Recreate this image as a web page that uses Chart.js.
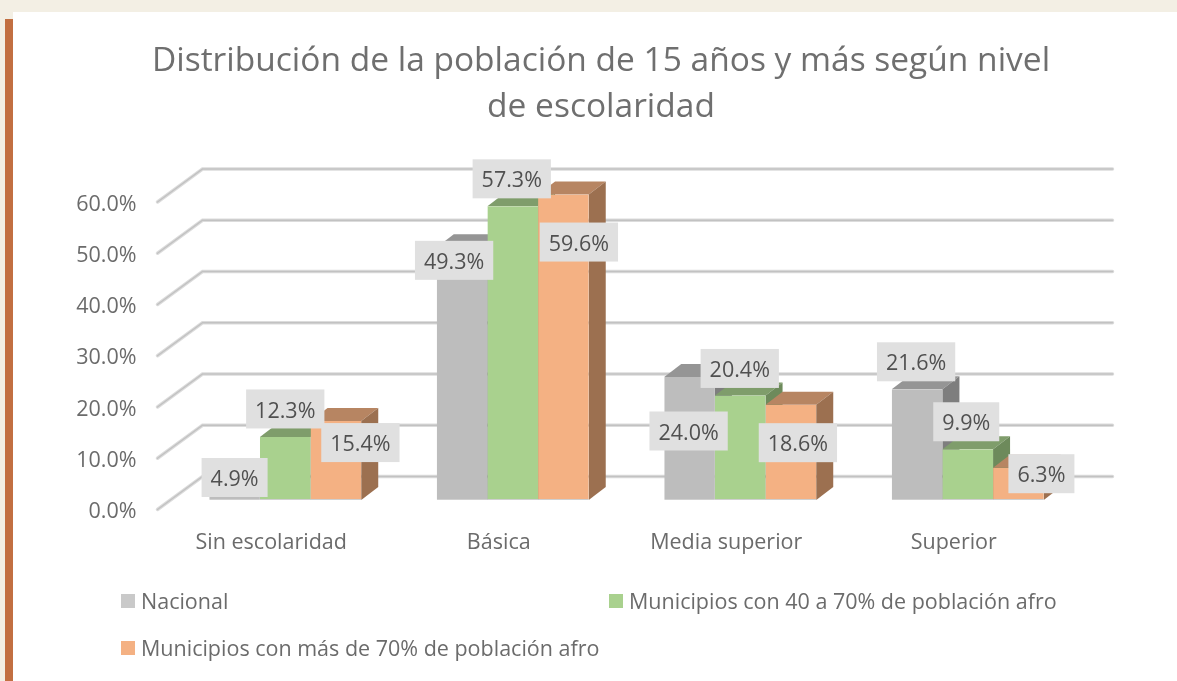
<!DOCTYPE html>
<html>
<head>
<meta charset="utf-8">
<title>Distribución de la población</title>
<script src="https://cdn.jsdelivr.net/npm/chart.js@4"></script>
<style>
    html, body { margin: 0; height: 100%; background: #F3EFE4; overflow: hidden; }
    #panel { position: absolute; left: 13px; top: 12px; right: 0; bottom: 0; background: #fff; }
    #strip { position: absolute; left: 5px; top: 19px; width: 8px; bottom: 0; background: #C26F41; }
    #wrap { position: absolute; left: 0; top: 0; width: 1177px; height: 681px; }
</style>
</head>
<body>
<div id="panel"></div>
<div id="strip"></div>
<div id="wrap"><canvas id="myChart"></canvas></div>
<script>
const categories = ['Sin escolaridad', 'Básica', 'Media superior', 'Superior'];
const nacional = [4.9, 49.3, 24.0, 21.6];
const municipios40a70 = [12.3, 57.3, 20.4, 9.9];
const municipiosMas70 = [15.4, 59.6, 18.6, 6.3];
const seriesNames = ['Nacional', 'Municipios con 40 a 70% de población afro', 'Municipios con más de 70% de población afro'];
const titleLines = ['Distribución de la población de 15 años y más según nivel', 'de escolaridad'];
const tickValues = [0, 10, 20, 30, 40, 50, 60];

// where each value label sits, measured from the top centre of its bar
const labelShiftX = [[0, -8, -1, -1], [0, -1, -0.5, -1.5], [24.5, 15.5, 7, 23]];
const labelShiftY = [[2.6, 13, 54, -27.5], [-28, -27.5, -27, -27.5], [21.5, 47.5, 38, 6]];

const FONT = '"Open Sans"';
const FONT_SIZE = 21.5;
const front = ['#BDBDBD', '#A9D18E', '#F4B183'];
const topFace = ['#959595', '#7F9D6B', '#B78562'];
const sideFace = ['#7E7E7E', '#6D8A5B', '#9C7050'];
const legendBox = ['#C9C9C9', '#A9D18E', '#F4B183'];
const legendSlots = [[121, 601], [609, 601], [121, 648]];

// the fake 3D: bars stand a little in from the floor edge
const barShift = { x: 14, y: -9.5 };
const barDepth = { x: 17, y: -13 };
const wallDepth = { x: 45, y: -33 };

function poly(ctx, pts, color) {
    ctx.fillStyle = color;
    ctx.beginPath();
    pts.forEach((p, i) => i ? ctx.lineTo(p[0], p[1]) : ctx.moveTo(p[0], p[1]));
    ctx.closePath();
    ctx.fill();
}

const fake3d = {
    id: 'fake3d',
    afterLayout(chart) {
        // title is centred on the slide, not on the plot
        chart.titleBlock.left += 67.25;
        chart.titleBlock.right += 67.25;
    },
    beforeDatasetsDraw(chart) {
        const ctx = chart.ctx;
        const yScale = chart.scales.y;
        const area = chart.chartArea;
        // walls
        tickValues.forEach(v => {
            const y = yScale.getPixelForValue(v);
            const path = () => {
                ctx.beginPath();
                ctx.moveTo(area.left, y);
                ctx.lineTo(area.left + wallDepth.x, y + wallDepth.y);
                ctx.lineTo(area.right + wallDepth.x, y + wallDepth.y);
                ctx.stroke();
            };
            ctx.save();
            ctx.lineCap = 'round';
            ctx.strokeStyle = '#DCDCDC';
            ctx.lineWidth = 3.5;
            path();
            ctx.strokeStyle = '#C2C2C2';
            ctx.lineWidth = 1.5;
            path();
            ctx.restore();
        });
        // bars, left to right so that the faces overlap properly
        ctx.save();
        ctx.translate(barShift.x, barShift.y);
        chart.data.datasets.forEach((ds, d) => {
            chart.getDatasetMeta(d).data.forEach(bar => {
                const l = bar.x - bar.width / 2;
                const r = bar.x + bar.width / 2;
                const t = bar.y;
                const b = bar.base;
                poly(ctx, [[l, t], [l + barDepth.x, t + barDepth.y], [r + barDepth.x, t + barDepth.y], [r, t]], topFace[d]);
                poly(ctx, [[r, t], [r + barDepth.x, t + barDepth.y], [r + barDepth.x, b + barDepth.y], [r, b]], sideFace[d]);
                bar.draw(ctx);
            });
        });
        ctx.restore();
    },
    beforeDatasetDraw() {
        return false; // already drawn above
    },
    afterDatasetsDraw(chart) {
        const ctx = chart.ctx;
        ctx.save();
        ctx.font = FONT_SIZE + 'px ' + FONT;
        ctx.textAlign = 'center';
        ctx.textBaseline = 'middle';
        chart.data.datasets.forEach((ds, d) => {
            chart.getDatasetMeta(d).data.forEach((bar, i) => {
                const text = ds.data[i].toFixed(1) + '%';
                const w = ctx.measureText(text).width + 18;
                const cx = bar.x + barShift.x + labelShiftX[d][i];
                const cy = bar.y + barShift.y + labelShiftY[d][i];
                ctx.fillStyle = '#E0E0E0';
                ctx.fillRect(cx - w / 2, cy - 19.5, w, 39);
                ctx.fillStyle = '#505050';
                ctx.fillText(text, cx, cy + 2.5);
            });
        });
        ctx.restore();
    },
    afterDraw(chart) {
        const ctx = chart.ctx;
        ctx.save();
        ctx.font = FONT_SIZE + 'px ' + FONT;
        ctx.textBaseline = 'middle';
        ctx.textAlign = 'left';
        chart.data.datasets.forEach((ds, d) => {
            const x = legendSlots[d][0];
            const y = legendSlots[d][1];
            ctx.fillStyle = legendBox[d];
            ctx.fillRect(x, y - 7, 14, 14);
            ctx.fillStyle = '#6B6B6B';
            ctx.fillText(ds.label, x + 20, y + 2);
        });
        ctx.restore();
    }
};

new Chart(document.getElementById('myChart'), {
    type: 'bar',
    data: {
        labels: categories,
        datasets: [
            { label: seriesNames[0], data: nacional, backgroundColor: front[0] },
            { label: seriesNames[1], data: municipios40a70, backgroundColor: front[1] },
            { label: seriesNames[2], data: municipiosMas70, backgroundColor: front[2] }
        ]
    },
    options: {
        responsive: true,
        maintainAspectRatio: false,
        animation: false,
        categoryPercentage: 0.668,
        barPercentage: 1,
        borderColor: '#CFCFCF',
        borderWidth: { top: 0, right: 0, bottom: 1, left: 0 },
        borderSkipped: false,
        layout: { padding: { left: 0, right: 109.5, top: 0, bottom: 111.5 } },
        scales: {
            x: {
                grid: { display: false, drawTicks: false },
                border: { display: false },
                ticks: { color: '#6B6B6B', font: { family: FONT, size: FONT_SIZE }, padding: 20, maxRotation: 0 },
                afterFit(scale) { scale.height = 60; }
            },
            y: {
                min: 0,
                max: 60,
                grid: { display: false, drawTicks: false },
                border: { display: false },
                ticks: {
                    stepSize: 10,
                    color: '#6B6B6B',
                    font: { family: FONT, size: FONT_SIZE },
                    padding: 21,
                    labelOffset: 2.5,
                    callback: v => v.toFixed(1) + '%'
                },
                afterFit(scale) { scale.width = 157.5; }
            }
        },
        plugins: {
            legend: { display: false },
            tooltip: { enabled: false },
            title: {
                display: true,
                text: titleLines,
                color: '#6F6F6F',
                font: { family: FONT, size: 33.5, weight: 'normal', lineHeight: 46 / 33.5 },
                padding: { top: 38, bottom: 72 }
            }
        }
    },
    plugins: [fake3d]
});
</script>
</body>
</html>
